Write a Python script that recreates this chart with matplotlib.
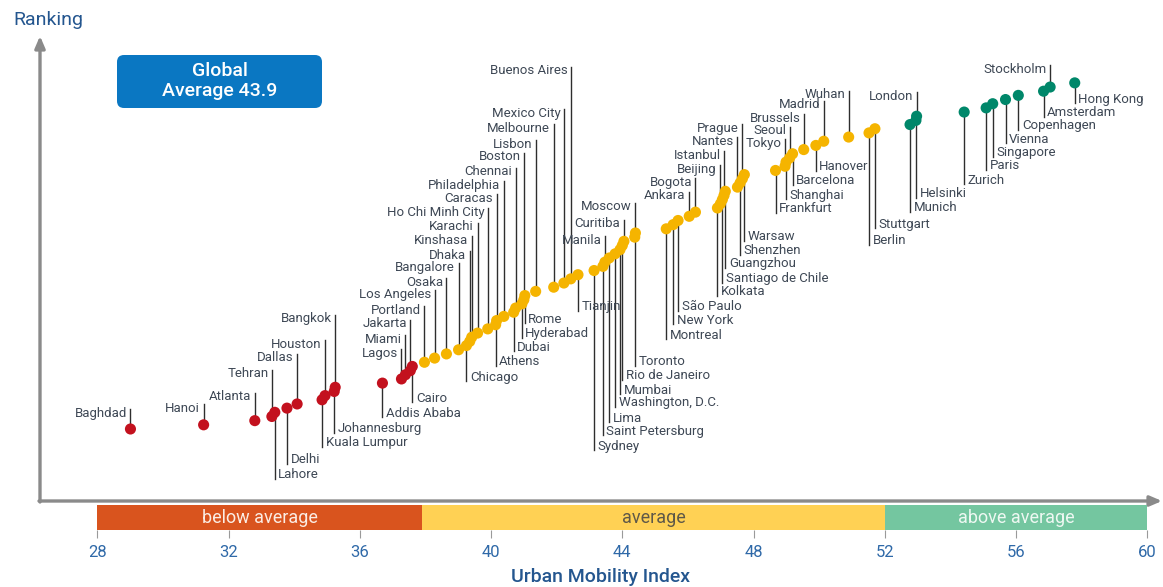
import matplotlib
matplotlib.use("Agg")
import matplotlib.pyplot as plt
from matplotlib.patches import FancyBboxPatch

plt.rcParams['font.family'] = ['Roboto', 'DejaVu Sans']

# Städte in aufsteigender Reihenfolge des Index (letzter = Rang 1)
cities = ["Baghdad", "Hanoi", "Atlanta", "Tehran", "Lahore", "Delhi", "Dallas",
          "Kuala Lumpur", "Houston", "Johannesburg", "Bangkok", "Addis Ababa",
          "Lagos", "Miami", "Jakarta", "Cairo", "Portland", "Los Angeles", "Osaka",
          "Bangalore", "Chicago", "Dhaka", "Kinshasa", "Karachi", "Ho Chi Minh City",
          "Athens", "Caracas", "Philadelphia", "Dubai", "Chennai", "Hyderabad",
          "Boston", "Rome", "Lisbon", "Melbourne", "Mexico City", "Buenos Aires",
          "Tianjin", "Sydney", "Saint Petersburg", "Manila", "Lima",
          "Washington, D.C.", "Mumbai", "Rio de Janeiro", "Curitiba", "Toronto",
          "Moscow", "Montreal", "New York", "São Paulo", "Ankara", "Bogota",
          "Kolkata", "Beijing", "Santiago de Chile", "Istanbul", "Guangzhou",
          "Nantes", "Shenzhen", "Prague", "Warsaw", "Frankfurt", "Tokyo",
          "Shanghai", "Seoul", "Barcelona", "Brussels", "Hanover", "Madrid",
          "Wuhan", "Berlin", "Stuttgart", "Munich", "Helsinki", "London", "Zurich",
          "Paris", "Singapore", "Vienna", "Copenhagen", "Amsterdam", "Stockholm",
          "Hong Kong"]

mobility_index = [29.01, 31.24, 32.80, 33.32, 33.41, 33.78, 34.09, 34.85, 34.94, 35.22,
                  35.25, 36.69, 37.27, 37.39, 37.54, 37.60, 37.97, 38.28, 38.64, 39.01,
                  39.25, 39.35, 39.41, 39.59, 39.90, 40.14, 40.17, 40.39, 40.69, 40.75,
                  40.94, 41.00, 41.03, 41.36, 41.91, 42.22, 42.43, 42.65, 43.14, 43.41,
                  43.47, 43.60, 43.78, 43.93, 44.00, 44.05, 44.38, 44.40, 45.34, 45.55,
                  45.70, 46.04, 46.23, 46.90, 46.99, 47.05, 47.10, 47.14, 47.51, 47.59,
                  47.66, 47.72, 48.67, 48.96, 48.99, 49.10, 49.19, 49.53, 49.90, 50.14,
                  50.90, 51.52, 51.70, 52.77, 52.95, 52.97, 54.42, 55.09, 55.29, 55.68,
                  56.07, 56.84, 57.04, 57.79]

ranking = [len(cities) - i for i in range(len(cities))]

global_average = 43.9
band_edges = [28, 37.9, 52, 60]
band_labels = ["below average", "average", "above average"]
x_ticks = [28, 32, 36, 40, 44, 48, 52, 56, 60]

# Beschriftung: Richtung (u = oben, d = unten) und Höhe des Textes (in Rang-Einheiten)
label_side = ["u", "u", "u", "u", "d", "d", "u", "d", "u", "d",
              "u", "d", "u", "u", "u", "d", "u", "u", "u", "u",
              "d", "u", "u", "u", "u", "d", "u", "u", "d", "u",
              "d", "u", "d", "u", "u", "u", "u", "d", "d", "d",
              "u", "d", "d", "d", "d", "u", "d", "u", "d", "d",
              "d", "u", "u", "d", "u", "d", "u", "d", "u", "d",
              "u", "d", "d", "u", "d", "u", "d", "u", "d", "u",
              "u", "d", "d", "d", "d", "u", "d", "d", "d", "d",
              "d", "d", "u", "d"]
label_y = [80.2, 79.0, 76.3, 70.8, 94.9, 91.4, 66.9, 87.3, 63.7, 84.0,
           57.6, 80.2, 65.8, 62.5, 58.8, 76.6, 55.5, 51.7, 48.9, 45.2,
           71.6, 42.3, 38.7, 35.5, 32.0, 67.9, 28.7, 25.5, 64.4, 22.3,
           61.1, 18.7, 57.7, 15.7, 11.9, 8.3, -1.9, 54.7, 88.1, 84.5,
           38.7, 81.4, 77.7, 74.7, 71.2, 34.8, 67.9, 30.7, 61.5, 57.9,
           54.7, 28.1, 24.9, 51.1, 21.7, 48.0, 18.3, 44.4, 15.1, 41.2,
           11.9, 37.9, 31.2, 15.5, 27.9, 12.5, 24.5, 9.5, 21.1, 6.3,
           3.9, 38.8, 34.9, 30.9, 27.5, 4.3, 24.3, 20.9, 17.7, 14.5,
           11.3, 8.1, -2.3, 4.9]

# Farben
band_colors = ["#D9541E", "#FFD154", "#74C6A0"]
band_text_colors = ["#FBEDE4", "#5E5848", "#EEF8F2"]
dot_colors = ["#C3111E", "#F5B400", "#00876A"]
text_color = "#3E4855"
blue = "#2F69A8"

W, H = 1163, 587
fig = plt.figure(figsize=(W / 100, H / 100), dpi=100)
ax = fig.add_axes([0, 0, 1, 1])
ax.set_xlim(25.034, 60.48)
ax.set_ylim(121.89, -18.87)
ax.axis("off")


def group_color(v):
    if v < band_edges[1]:
        return dot_colors[0]
    if v < band_edges[2]:
        return dot_colors[1]
    return dot_colors[2]


colors = [group_color(v) for v in mobility_index]

for name, v, r, side, ly in zip(cities, mobility_index, ranking, label_side, label_y):
    if side == "u":
        ax.plot([v, v], [r, ly - 1.0], color="#2E2E2E", lw=1.0, zorder=2)
        ax.annotate(name, (v, ly), xytext=(-2.5, 0), textcoords="offset points",
                    ha="right", va="center", fontsize=9.5, color=text_color)
    else:
        ax.plot([v, v], [r, ly + 1.0], color="#2E2E2E", lw=1.0, zorder=2)
        ax.annotate(name, (v, ly), xytext=(2.5, 0), textcoords="offset points",
                    ha="left", va="center", fontsize=9.5, color=text_color)

ax.scatter(mobility_index, ranking, s=64, c=colors, edgecolors="none", zorder=3)

# Achsenpfeile
arrow = dict(arrowstyle="-|>,head_length=0.7,head_width=0.3", color="#8A8A8A",
             lw=2.4, shrinkA=0, shrinkB=0)
ax.annotate("", xy=(40, H - 36), xytext=(40, H - 502), xycoords="figure pixels",
            textcoords="figure pixels", arrowprops=arrow)
ax.annotate("", xy=(1162, H - 501), xytext=(39, H - 501), xycoords="figure pixels",
            textcoords="figure pixels", arrowprops=arrow)
ax.text(48, H - 20, "Ranking", transform=None, ha="center", va="center",
        fontsize=14, color="#24568F")

# Kasten mit globalem Durchschnitt
box = FancyBboxPatch((1.17, (H - 108) / 100), 2.05, 0.53,
                     boxstyle="round,pad=0,rounding_size=0.07",
                     transform=fig.dpi_scale_trans, fc="#0A77C2", ec="none")
ax.add_patch(box)
ax.text(2.195, (H - 81) / 100, f"Global\nAverage {global_average}",
        transform=fig.dpi_scale_trans, ha="center", va="center", fontsize=14,
        color="white", linespacing=1.15, fontweight="medium")

# Farbband unter der x-Achse
ax_band = fig.add_axes([0, 57 / H, 1, 25 / H])
ax_band.set_xlim(ax.get_xlim())
ax_band.set_ylim(0, 1)
for i in range(3):
    ax_band.axvspan(band_edges[i], band_edges[i + 1], color=band_colors[i], lw=0)
    ax_band.text((band_edges[i] + band_edges[i + 1]) / 2, 0.48, band_labels[i],
                 ha="center", va="center", fontsize=13, color=band_text_colors[i])
for s in ax_band.spines.values():
    s.set_visible(False)
ax_band.set_yticks([])
ax_band.set_xticks(x_ticks)
ax_band.tick_params(axis="x", length=6, width=0.8, color="#9A9A9A",
                    labelsize=12, labelcolor=blue, pad=5)
ax_band.patch.set_alpha(0)

ax.text(601, 10, "Urban Mobility Index", transform=None, ha="center", va="center",
        fontsize=14, color="#24568F", fontweight="medium")

fig.savefig("out.png", dpi=100)
